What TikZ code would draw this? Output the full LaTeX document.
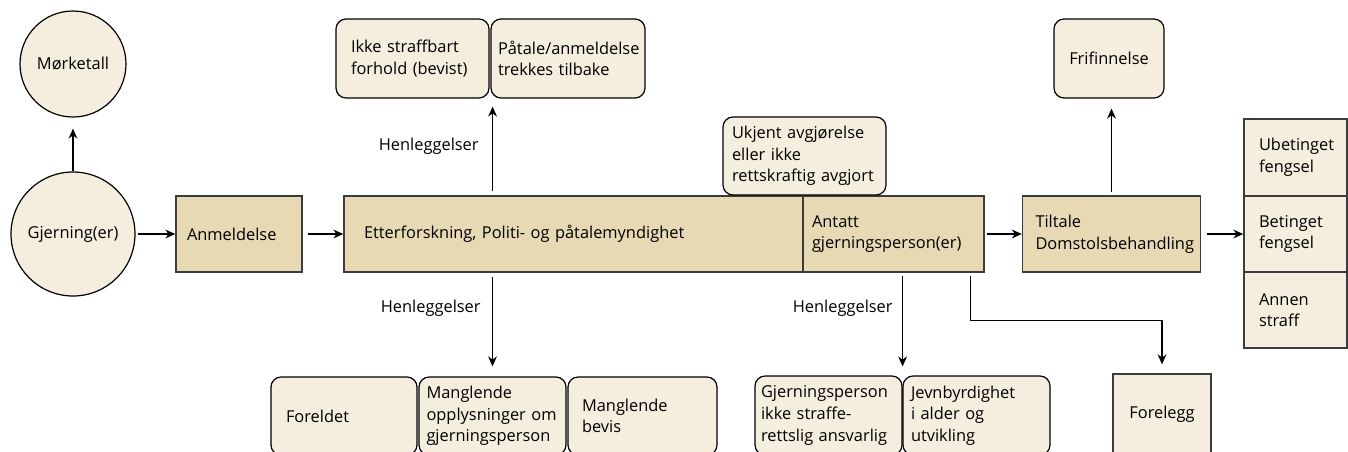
\documentclass[tikz,border=0pt]{standalone}
\usepackage{fontspec}
\setmainfont{Open Sans}
\usetikzlibrary{arrows.meta,positioning,calc}
\definecolor{boxlight}{RGB}{245,237,222}
\definecolor{boxdark}{RGB}{232,217,181}
\definecolor{edgegray}{RGB}{60,60,60}
\newcommand{\flowfont}{\fontsize{8.2}{10.8}\selectfont}
\tikzset{
  flowarr/.style={-{Stealth[length=5pt,width=4.4pt]}, black, line width=0.6pt},
  circ/.style={circle, draw=black, fill=boxlight, line width=0.6pt, font=\flowfont, inner sep=0pt},
  stage/.style={draw=edgegray, fill=boxdark, line width=0.7pt, align=left, font=\flowfont, inner ysep=0pt},
  outc/.style={draw=black, fill=boxlight, rounded corners=5pt, line width=0.6pt, align=left, font=\flowfont, inner ysep=0pt},
  sanc/.style={draw=edgegray, fill=boxlight, line width=0.7pt, align=left, font=\flowfont, inner ysep=0pt},
  lbl/.style={font=\flowfont, inner sep=0pt, anchor=east},
}

\begin{document}
\begin{tikzpicture}[x=0.5pt, y=-0.5pt]
  \useasboundingbox (0,0) rectangle (1348,451);
  \clip (0,0) rectangle (1348,451);

  % start
  \node[circ, minimum size=53pt] (mork) at (73,64) {Mørketall};
  \node[circ, minimum size=62pt] (gj) at (73,234) {Gjerning(er)};

  % main chain
  \node[stage, text width=52pt, inner xsep=5.5pt, minimum height=38pt] (anm) at (239,234) {Anmeldelse};
  \node[stage, text width=209.5pt, inner xsep=10pt, minimum height=38pt] (etter) at (573.5,234) {Etterforskning, Politi- og påtalemyndighet};
  \node[stage, text width=81.5pt, inner xsep=4.5pt, minimum height=38pt] (antatt) at (893.5,234) {Antatt\\gjerningsperson(er)};
  \node[stage, text width=76pt, inner xsep=6.5pt, minimum height=38pt] (tiltale) at (1111.5,234) {Tiltale\\Domstolsbehandling};

  % upper outcomes
  \node[outc, text width=61.5pt, inner xsep=7.5pt, minimum height=39.5pt] (ikke) at (412.5,58.5) {Ikke straffbart\\forhold (bevist)};
  \node[outc, text width=70pt, inner xsep=3.5pt, minimum height=39.5pt] (pat) at (568,58.5) {Påtale/anmeldelse\\trekkes tilbake};
  \node[outc, text width=72.5pt, inner xsep=4.5pt, minimum height=39pt] (ukjent) at (804.5,156) {Ukjent avgjørelse\\eller ikke\\rettskraftig avgjort};
  \node[outc, align=center, minimum width=55pt, minimum height=39.5pt] (fri) at (1109,58.5) {Frifinnelse};

  % sanctions
  \node[sanc, text width=36.5pt, inner xsep=7.5pt, minimum height=38.5pt] (ubet) at (1295.5,157.5) {Ubetinget\\fengsel};
  \node[sanc, text width=36.5pt, inner xsep=7.5pt, minimum height=38pt, below=-0.7pt of ubet] (bet) {Betinget\\fengsel};
  \node[sanc, text width=36.5pt, inner xsep=7.5pt, minimum height=38pt, below=-0.7pt of bet] (annen) {Annen\\straff};

  % lower outcomes
  \node[outc, text width=58pt, inner xsep=7.5pt, minimum height=39pt] (foreldet) at (344,416) {Foreldet};
  \node[outc, text width=66pt, inner xsep=3.75pt, minimum height=39pt] (opp) at (492.5,416) {Manglende\\opplysninger om\\gjerningsperson};
  \node[outc, text width=60.5pt, inner xsep=7pt, minimum height=39pt] (bevis) at (642.5,416) {Manglende\\bevis};
  \node[outc, text width=67.5pt, inner xsep=3pt, minimum height=39.5pt] (gjp) at (828.5,415.5) {Gjerningsperson\\ikke straffe-\\rettslig ansvarlig};
  \node[outc, text width=65.5pt, inner xsep=4pt, minimum height=39.5pt] (jevn) at (976.5,415.5) {Jevnbyrdighet\\i alder og\\utvikling};
  \node[sanc, align=center, minimum width=49pt, minimum height=40.5pt] (fore) at (1162,414.5) {Forelegg};

  % labels
  \node[lbl] (hl1) at (479,146) {Henleggelser};
  \node[lbl] (hl2) at (481,308) {Henleggelser};
  \node[lbl] (hl3) at (893,308) {Henleggelser};

  % connectors
  \draw[flowarr, shorten >=5.5pt] (gj.north) -- (mork.south);
  \draw[flowarr, shorten <=1pt] (gj.east) -- (anm.west);
  \draw[flowarr, shorten <=2.5pt] (anm.east) -- (etter.west);
  \draw[flowarr, shorten <=1pt] (antatt.east) -- (tiltale.west);
  \draw[flowarr, shorten <=3pt] (tiltale.east) -- (tiltale.east -| bet.west);
  \coordinate (upx) at ([xshift=1.5pt]ikke.south east);
  \draw[flowarr, shorten <=2pt, shorten >=4pt] (upx |- etter.north) -- (upx);
  \draw[flowarr, shorten <=2pt, shorten >=5pt] (opp.north |- etter.south) -- (opp.north);
  \draw[flowarr, shorten <=1.5pt, shorten >=4.5pt] (gjp.north east |- antatt.south) -- (gjp.north east);
  \coordinate (fork) at ([xshift=-7pt]antatt.south east);
  \draw[flowarr, shorten <=1.5pt, shorten >=4.5pt] (fork) -- ++(0,48) -| (fore.north);
  \draw[flowarr, shorten <=1.5pt, shorten >=5pt] (tiltale.north) -- (tiltale.north |- fri.south);
\end{tikzpicture}
\end{document}
